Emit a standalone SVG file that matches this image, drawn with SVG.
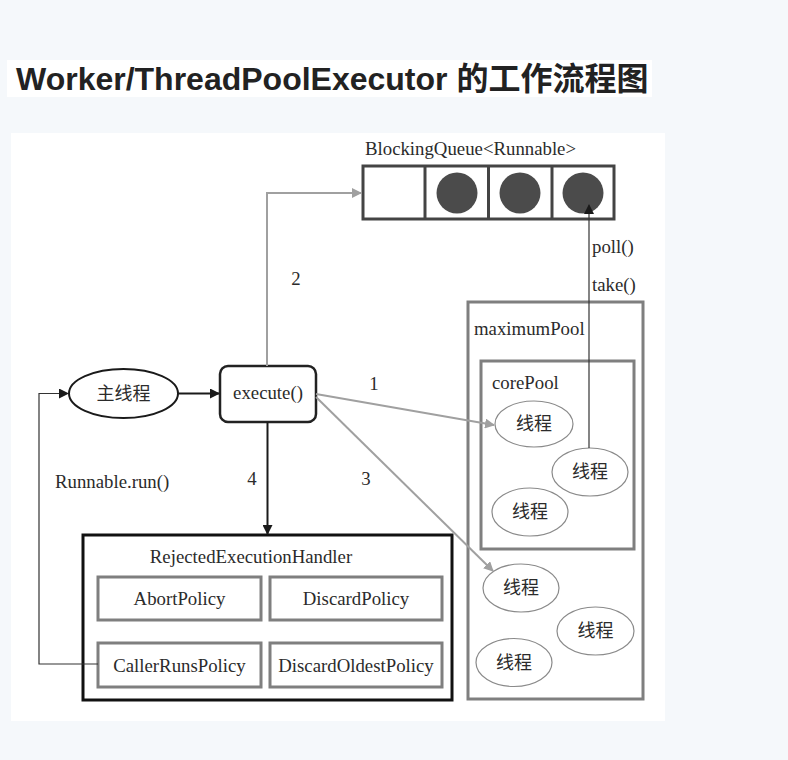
<svg xmlns="http://www.w3.org/2000/svg" width="788" height="760" viewBox="0 0 788 760">
<style>
.t{font-family:"Liberation Serif","Noto Sans CJK SC",serif;font-size:18.8px;fill:#2b2b2b}
.c{font-family:"Noto Sans CJK SC",sans-serif;font-size:18px;fill:#2b2b2b}
.gbox{fill:#fff;stroke:#7f7f7f;stroke-width:3}
.th{fill:#fff;stroke:#8a8a8a;stroke-width:1.2}
.gl{fill:none;stroke:#a0a0a0;stroke-width:2}
.bl{fill:none;stroke:#1a1a1a;stroke-width:2}
.tl{fill:none;stroke:#333;stroke-width:1.2}
</style>
<defs>
<marker id="ag" markerWidth="10" markerHeight="10" refX="9" refY="5" orient="auto" markerUnits="userSpaceOnUse"><path d="M0,0 L10,5 L0,10 Z" fill="#a0a0a0"/></marker>
<marker id="ab" markerWidth="10" markerHeight="10" refX="9" refY="5" orient="auto" markerUnits="userSpaceOnUse"><path d="M0,0 L10,5 L0,10 Z" fill="#1a1a1a"/></marker>
</defs>
<rect x="0" y="0" width="788" height="760" fill="#f5f8fb"/>
<rect x="7" y="60" width="645" height="37" fill="#fff"/>
<text x="16" y="90" font-family="Liberation Sans,Noto Sans CJK SC,sans-serif" font-weight="bold" font-size="32" fill="#222">Worker/ThreadPoolExecutor 的工作流程图</text>
<rect x="11" y="133" width="654" height="588" fill="#fff"/>

<g id="queue">
<text class="t" x="365" y="155">BlockingQueue&lt;Runnable&gt;</text>
<rect x="363" y="166" width="251" height="53" fill="#fff" stroke="#444" stroke-width="3"/>
<line x1="425" y1="166" x2="425" y2="219" stroke="#444" stroke-width="3"/>
<line x1="488.5" y1="166" x2="488.5" y2="219" stroke="#444" stroke-width="3"/>
<line x1="552" y1="166" x2="552" y2="219" stroke="#444" stroke-width="3"/>
<circle cx="457" cy="193" r="20.5" fill="#4b4b4b"/>
<circle cx="520" cy="193" r="20.5" fill="#4b4b4b"/>
<circle cx="583" cy="193" r="20.5" fill="#4b4b4b"/>
</g>

<g id="maximumPool">
<rect class="gbox" x="468" y="302" width="175" height="397"/>
<text class="t" x="474" y="335">maximumPool</text>
</g>
<g id="corePool">
<rect class="gbox" x="481" y="361" width="153" height="188"/>
<text class="t" x="492" y="389">corePool</text>
</g>
<g id="core-thread-1"><ellipse class="th" cx="534" cy="424" rx="39" ry="23"/><text class="c" x="534" y="430" text-anchor="middle">线程</text></g>
<g id="core-thread-2"><ellipse class="th" cx="590" cy="472" rx="38" ry="24"/><text class="c" x="590" y="478" text-anchor="middle">线程</text></g>
<g id="core-thread-3"><ellipse class="th" cx="530" cy="512" rx="38" ry="24"/><text class="c" x="530" y="518" text-anchor="middle">线程</text></g>
<g id="max-thread-1"><ellipse class="th" cx="521" cy="588" rx="38" ry="24"/><text class="c" x="521" y="594" text-anchor="middle">线程</text></g>
<g id="max-thread-2"><ellipse class="th" cx="595.5" cy="631" rx="38.5" ry="24"/><text class="c" x="595.5" y="637" text-anchor="middle">线程</text></g>
<g id="max-thread-3"><ellipse class="th" cx="514" cy="662.5" rx="38" ry="24"/><text class="c" x="514" y="668.5" text-anchor="middle">线程</text></g>

<g id="main-thread">
<ellipse cx="123.5" cy="393.5" rx="54.5" ry="24.5" fill="#fff" stroke="#1a1a1a" stroke-width="2"/>
<text class="c" x="123.5" y="400" text-anchor="middle">主线程</text>
</g>
<g id="execute">
<rect x="220" y="366" width="96" height="56" rx="8" fill="#fff" stroke="#222" stroke-width="2.5"/>
<text class="t" x="268" y="399" text-anchor="middle">execute()</text>
</g>

<g id="handler">
<rect x="83" y="535" width="369" height="165" fill="#fff" stroke="#111" stroke-width="3"/>
<text class="t" x="251" y="563" text-anchor="middle">RejectedExecutionHandler</text>
<g id="abort"><rect class="gbox" x="98" y="577" width="163" height="43"/><text class="t" x="179.5" y="605" text-anchor="middle">AbortPolicy</text></g>
<g id="discard"><rect class="gbox" x="270" y="577" width="172" height="43"/><text class="t" x="356" y="605" text-anchor="middle">DiscardPolicy</text></g>
<g id="callerRuns"><rect class="gbox" x="98" y="643" width="163" height="44"/><text class="t" x="179.5" y="672" text-anchor="middle">CallerRunsPolicy</text></g>
<g id="discardOldest"><rect class="gbox" x="270" y="643" width="172" height="44"/><text class="t" x="356" y="672" text-anchor="middle">DiscardOldestPolicy</text></g>
</g>

<g id="connectors">
<path class="bl" d="M178,393.5 L219,393.5" marker-end="url(#ab)"/>
<path class="gl" d="M267,366 L267,193 L361,193" marker-end="url(#ag)"/>
<path class="gl" d="M316,394 L494,425" marker-end="url(#ag)"/>
<path class="gl" d="M316,397 L493,571" marker-end="url(#ag)"/>
<path class="bl" d="M267.5,422 L267.5,534" marker-end="url(#ab)"/>
<path class="tl" d="M98,664 L39,664 L39,393.5 L68,393.5" marker-end="url(#ab)"/>
<path class="tl" d="M589,448 L589,205" marker-end="url(#ab)"/>
<text class="t" x="296" y="285" text-anchor="middle">2</text>
<text class="t" x="374" y="390" text-anchor="middle">1</text>
<text class="t" x="366" y="485" text-anchor="middle">3</text>
<text class="t" x="252" y="485" text-anchor="middle">4</text>
<text class="t" x="55" y="488">Runnable.run()</text>
<text class="t" x="592" y="253">poll()</text>
<text class="t" x="592" y="291">take()</text>
</g>
</svg>
